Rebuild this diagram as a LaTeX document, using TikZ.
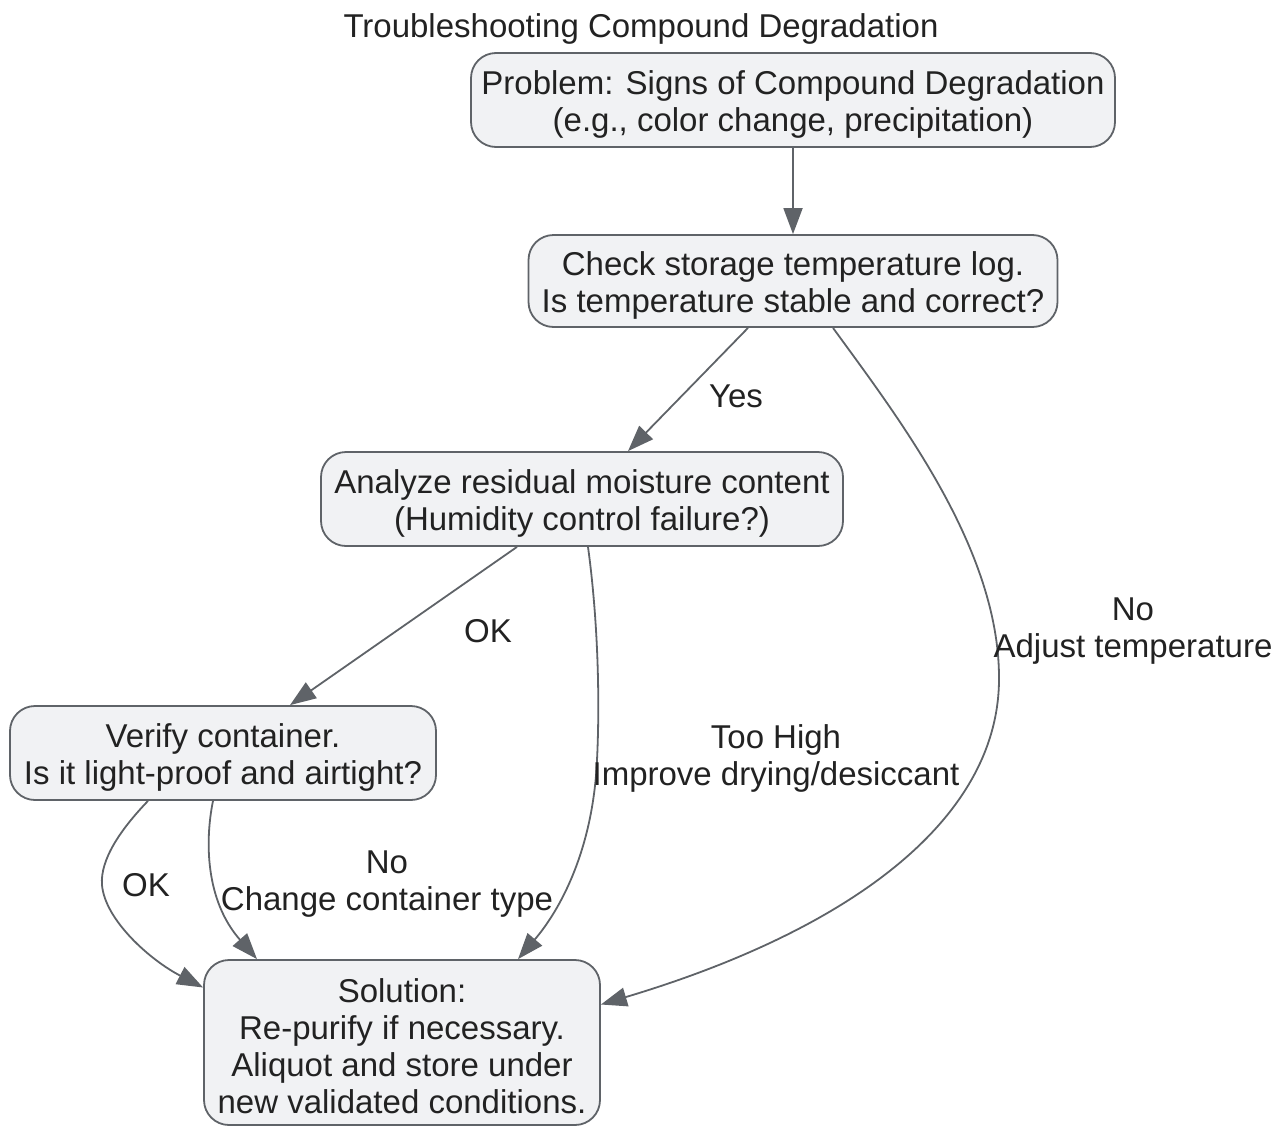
\documentclass[tikz,border=0pt]{standalone}
\usepackage{fontspec}
\setmainfont{Liberation Sans}
\usetikzlibrary{arrows.meta,calc}
\definecolor{boxfill}{HTML}{F1F2F4}
\definecolor{boxline}{HTML}{5F6368}
\definecolor{txt}{HTML}{222222}
\newcommand{\topstrut}{\rule{0pt}{32pt}}
\tikzset{
  flowbox/.style={draw=boxline, fill=boxfill, line width=1.8pt, rounded corners=25pt,
    align=center, text=txt, font=\fontsize{33}{37}\selectfont, inner sep=0pt, anchor=center},
  lbl/.style={align=center, text=txt, font=\fontsize{33}{37}\selectfont, inner sep=0pt},
  conn/.style={draw=boxline, line width=1.8pt, -{Triangle[length=26pt,width=19pt]}},
}
\begin{document}
\begin{tikzpicture}[x=1pt,y=-1pt]
\useasboundingbox (0,0) rectangle (1276,1127);
\node[lbl] (title) at (641,29) {Troubleshooting Compound Degradation};
\node[flowbox, minimum width=644pt, minimum height=94pt] (A) at (793,100)
  {\topstrut Problem: Signs of Compound Degradation\\(e.g., color change, precipitation)};
\node[flowbox, minimum width=529pt, minimum height=92pt] (B) at (793,281)
  {\topstrut Check storage temperature log.\\Is temperature stable and correct?};
\node[flowbox, minimum width=522pt, minimum height=94pt] (C) at (582,499)
  {\topstrut Analyze residual moisture content\\(Humidity control failure?)};
\node[flowbox, minimum width=426pt, minimum height=94pt] (D) at (223,753)
  {\topstrut Verify container.\\Is it light-proof and airtight?};
\node[flowbox, minimum width=396pt, minimum height=165pt] (E) at (402,1042.5)
  {\topstrut Solution:\\Re-purify if necessary.\\Aliquot and store under\\new validated conditions.};

\draw[conn] (A.south) -- (B.north);
\draw[conn] ($(B.south)+(-45,0)$) -- ($(C.north)+(46,0)$);
\draw[conn] ($(B.south)+(40,0)$) .. controls (900,420) and (1000,550) .. (999,680)
  .. controls (998,820) and (850,930) .. ($(E.east)+(0,-38)$);
\draw[conn] ($(C.south)+(-65,0)$) -- ($(D.north)+(67,0)$);
\draw[conn] ($(C.south)+(6,0)$) .. controls (598,620) and (600,700) .. (597,760)
  .. controls (593,850) and (560,910) .. ($(E.north)+(116,0)$);
\draw[conn] ($(D.south)+(-75,0)$) .. controls (120,830) and (100,860) .. (102,885)
  .. controls (105,920) and (150,960) .. ($(E.west)+(0,-55)$);
\draw[conn] ($(D.south)+(-10,0)$) .. controls (205,840) and (205,900) .. ($(E.north)+(-145,0)$);

\node[lbl] (l1) at (736,396) {Yes};
\node[lbl] (l2) at (1133,631) {No\\Adjust temperature};
\node[lbl] (l3) at (488,631) {OK};
\node[lbl] (l4) at (776,758) {Too High\\Improve drying/desiccant};
\node[lbl] (l5) at (146,885) {OK};
\node[lbl] (l6) at (387,884) {No\\Change container type};
\end{tikzpicture}
\end{document}
